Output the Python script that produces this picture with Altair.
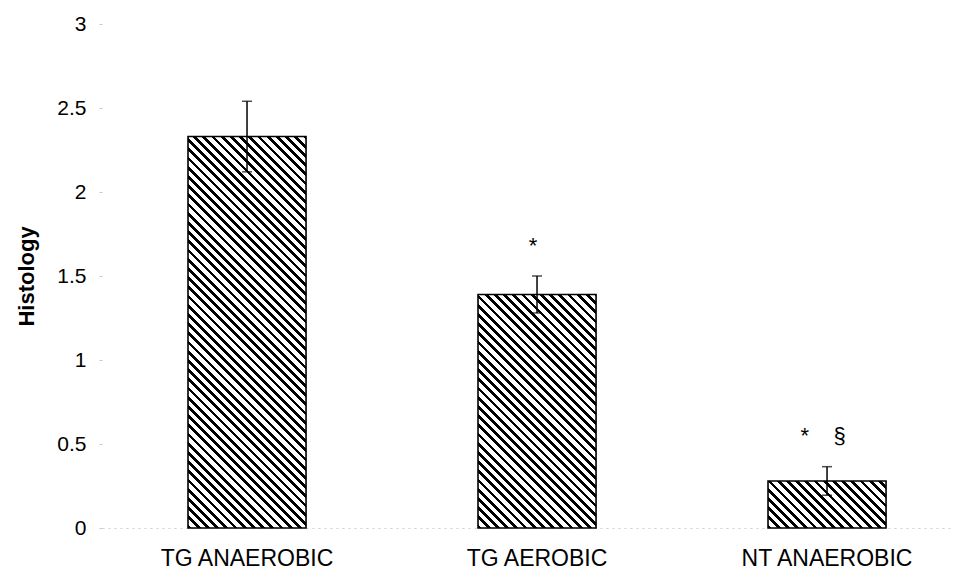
import altair as alt
import pandas as pd

# ---- data ----
categories = ["TG ANAEROBIC", "TG AEROBIC", "NT ANAEROBIC"]
means = [2.33, 1.39, 0.28]
sems = [0.21, 0.11, 0.085]
sig_labels = ["", "*", "*\u00a0\u00a0\u00a0\u00a0§"]
sig_y = [None, 1.68, 0.55]
y_ticks = [0, 0.5, 1, 1.5, 2, 2.5, 3]

df = pd.DataFrame({
    "group": categories,
    "mean": means,
    "lo": [m - s for m, s in zip(means, sems)],
    "hi": [m + s for m, s in zip(means, sems)],
})
ann = pd.DataFrame({"group": categories, "label": sig_labels, "y": sig_y}).dropna()

# ---- layout ----
PLOT_W, PLOT_H = 850, 504
YMAX = 3.0
P_INNER, P_OUTER, ALIGN = 0.593, 0.262, 0.566
FONT = "Liberation Sans"

step = PLOT_W / (len(categories) - P_INNER + 2 * P_OUTER)
bw = step * (1 - P_INNER)

x_scale = alt.Scale(domain=categories, paddingInner=P_INNER, paddingOuter=P_OUTER, align=ALIGN)
y_scale = alt.Scale(domain=[0, YMAX], nice=False, zero=True)

x_enc = alt.X("group:N", scale=x_scale, sort=categories,
              axis=alt.Axis(title=None, labelAngle=0, ticks=False, labelFontSize=23,
                            labelFont=FONT, labelColor="#000", labelPadding=19,
                            domainColor="#cfcfcf", domainDash=[2, 4], domainWidth=1))
y_axis = alt.Axis(title="Histology", values=y_ticks, format="~g", grid=False, domain=False,
                  tickSize=3, tickColor="#c8c8c8", tickWidth=1, labelPadding=13,
                  labelFontSize=21, labelFont=FONT, labelColor="#000",
                  titleFontSize=22, titleFont=FONT, titleFontWeight="bold",
                  titleColor="#000", titlePadding=18)


def hatch(value):
    """Diagonal '\\' hatch as a hard-stop linear gradient sized to the bar."""
    w = bw
    h = max(value / YMAX * PLOT_H, 1.0)
    r = h / w
    s = (1 + r) / (1 + r * r)
    period_px = 9.2
    p = period_px / (w + h)
    frac = 0.42
    stops = []
    k = 0
    while k * p < 1:
        a = k * p
        b = min(a + frac * p, 1)
        c = min(a + p, 1)
        stops += [{"offset": a, "color": "#000"}, {"offset": b, "color": "#000"},
                  {"offset": b, "color": "#fff"}, {"offset": c, "color": "#fff"}]
        k += 1
    return {"gradient": "linear", "x1": 0, "y1": 1, "x2": s, "y2": 1 - s * r, "stops": stops}


base = alt.Chart(df)
bars = []
for cat, m in zip(categories, means):
    bars.append(
        base.transform_filter(alt.datum.group == cat)
        .mark_bar(fill=hatch(m), stroke="#000", strokeWidth=1.6)
        .encode(x=x_enc, y=alt.Y("mean:Q", scale=y_scale, axis=y_axis))
    )

err = base.mark_rule(color="#000", strokeWidth=1.5).encode(
    x=alt.X("group:N", sort=categories), y="lo:Q", y2="hi:Q")
cap_hi = base.mark_tick(color="#000", size=10, thickness=1.5, orient="horizontal").encode(
    x=alt.X("group:N", sort=categories), y="hi:Q")
cap_lo = base.mark_tick(color="#000", size=10, thickness=1.5, orient="horizontal").encode(
    x=alt.X("group:N", sort=categories), y="lo:Q")

text = alt.Chart(ann).mark_text(fontSize=22, font=FONT, color="#000", dx=-4,
                                baseline="middle", align="center").encode(
    x=alt.X("group:N", sort=categories), y="y:Q", text="label:N")

chart = alt.layer(*bars, err, cap_hi, cap_lo, text).properties(
    width=PLOT_W, height=PLOT_H,
    background="#ffffff",
    autosize=alt.AutoSizeParams(type="none"),
    padding={"left": 94, "top": 16, "right": 4, "bottom": 50},
).configure_view(stroke=None)

chart.save("out.html", embed_options={"renderer": "svg", "actions": False})
